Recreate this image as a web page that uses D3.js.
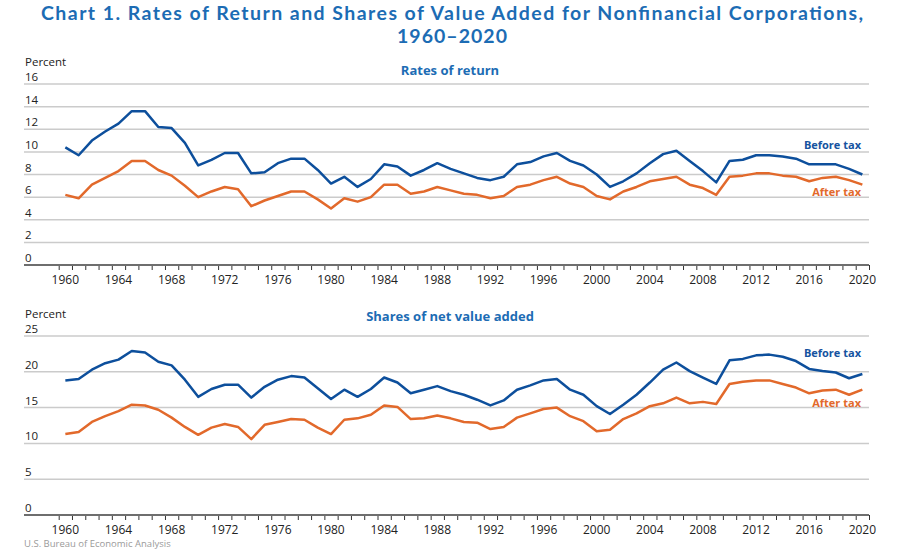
<!DOCTYPE html>
<html>
<head>
<meta charset="utf-8" />
<title>Chart 1</title>
<script src="https://d3js.org/d3.v7.min.js"></script>
<style>
  body { margin: 0; background: #fff; }
  text { font-family: "Open Sans", sans-serif; }
</style>
</head>
<body>
<div id="chart"></div>
<script>
const years = d3.range(1960, 2021);

const returnBefore = [10.4, 9.7, 11.0, 11.8, 12.5, 13.6, 13.6, 12.2, 12.1, 10.8,
  8.8, 9.3, 9.9, 9.9, 8.1, 8.2, 9.0, 9.4, 9.4, 8.4,
  7.2, 7.8, 6.9, 7.6, 8.9, 8.7, 7.9, 8.4, 9.0, 8.5,
  8.1, 7.7, 7.5, 7.8, 8.9, 9.1, 9.6, 9.9, 9.2, 8.8,
  8.0, 6.9, 7.4, 8.1, 9.0, 9.8, 10.1, 9.2, 8.3, 7.3,
  9.2, 9.3, 9.7, 9.7, 9.6, 9.4, 8.9, 8.9, 8.9, 8.5, 8.0];

const returnAfter = [6.2, 5.9, 7.1, 7.7, 8.3, 9.2, 9.2, 8.4, 7.9, 7.0,
  6.0, 6.5, 6.9, 6.7, 5.2, 5.7, 6.1, 6.5, 6.5, 5.8,
  5.0, 5.9, 5.6, 6.0, 7.1, 7.1, 6.3, 6.5, 6.9, 6.6,
  6.3, 6.2, 5.9, 6.1, 6.9, 7.1, 7.5, 7.8, 7.2, 6.9,
  6.1, 5.8, 6.5, 6.9, 7.4, 7.6, 7.8, 7.1, 6.8, 6.2,
  7.8, 7.9, 8.1, 8.1, 7.9, 7.8, 7.4, 7.7, 7.8, 7.5, 7.1];

const shareBefore = [18.8, 19.0, 20.3, 21.2, 21.7, 22.9, 22.7, 21.4, 20.9, 18.9,
  16.5, 17.6, 18.2, 18.2, 16.4, 17.9, 18.9, 19.4, 19.2, 17.7,
  16.2, 17.5, 16.5, 17.6, 19.2, 18.5, 17.0, 17.5, 18.0, 17.3,
  16.8, 16.1, 15.3, 16.0, 17.5, 18.1, 18.8, 19.0, 17.5, 16.8,
  15.2, 14.1, 15.4, 16.8, 18.5, 20.3, 21.3, 20.1, 19.2, 18.3,
  21.6, 21.8, 22.3, 22.4, 22.1, 21.5, 20.4, 20.1, 19.9, 19.1, 19.7];

const shareAfter = [11.3, 11.6, 13.0, 13.8, 14.5, 15.4, 15.3, 14.7, 13.6, 12.3,
  11.2, 12.2, 12.7, 12.3, 10.6, 12.6, 13.0, 13.4, 13.3, 12.2,
  11.3, 13.3, 13.5, 14.0, 15.3, 15.1, 13.4, 13.5, 13.9, 13.5,
  13.0, 12.9, 12.0, 12.3, 13.6, 14.2, 14.8, 15.0, 13.8, 13.1,
  11.7, 11.9, 13.4, 14.2, 15.2, 15.6, 16.4, 15.6, 15.8, 15.5,
  18.3, 18.6, 18.8, 18.8, 18.3, 17.8, 17.0, 17.4, 17.5, 16.8, 17.5];

const returnTicks = [0, 2, 4, 6, 8, 10, 12, 14, 16];
const shareTicks = [0, 5, 10, 15, 20, 25];
const yearLabels = d3.range(1960, 2021, 4);

const blue = "#0d4f9c", orange = "#e2692b", titleBlue = "#1c6cb4";
const W = 905, H = 550;
const left = 24, right = 869;

const svg = d3.select("#chart").append("svg")
  .attr("width", W).attr("height", H);
svg.append("rect").attr("width", W).attr("height", H).attr("fill", "#fff");

// title, two lines (stretched to the reference width)
[["Chart 1. Rates of Return and Shares of Value Added for Nonfinancial Corporations,", 19.5, 822],
 ["1960–2020", 42.5, 110]].forEach(([t, yy, len]) => {
  svg.append("text").attr("x", 452).attr("y", yy).attr("text-anchor", "middle")
    .attr("fill", titleBlue).attr("font-size", 19.5).attr("font-weight", 700)
    .style("font-family", "Lato, sans-serif")
    .attr("textLength", len).attr("lengthAdjust", "spacing").text(t);
});

const x = d3.scaleLinear().domain([1960, 2021]).range([58.7, right]);

function panel(opts) {
  const y = d3.scaleLinear().domain([0, opts.max]).range([opts.bottom, opts.top]);
  const g = svg.append("g");

  g.append("text").attr("x", 25).attr("y", opts.top - 18)
    .attr("font-size", 11.5).attr("fill", "#222").text("Percent");
  g.append("text").attr("x", 450).attr("y", opts.top - 10 + opts.subDy)
    .attr("text-anchor", "middle").attr("font-size", 13).attr("font-weight", 700)
    .attr("fill", titleBlue).text(opts.sub);

  // gridlines + y labels
  g.selectAll(".grid").data(opts.ticks.filter(d => d > 0)).join("line")
    .attr("x1", left).attr("x2", right)
    .attr("y1", d => y(d)).attr("y2", d => y(d))
    .attr("stroke", "#cbcbcb").attr("stroke-width", 1.5);
  g.selectAll(".ylab").data(opts.ticks).join("text")
    .attr("x", 25).attr("y", d => y(d) - 3)
    .attr("font-size", 11.5).attr("fill", "#222").text(d => d);

  // x axis: ticks at year boundaries, labels mid-year
  const ax = g.append("g").attr("transform", `translate(0,${opts.bottom})`)
    .call(d3.axisBottom(x).tickValues(d3.range(1960, 2022)).tickSize(5).tickFormat(""));
  ax.select(".domain").remove();
  ax.selectAll(".tick line").attr("stroke", "#333").attr("stroke-width", 1);
  g.append("line").attr("x1", left).attr("x2", right)
    .attr("y1", opts.bottom).attr("y2", opts.bottom)
    .attr("stroke", "#6e6e6e").attr("stroke-width", 2);
  g.selectAll(".xlab").data(yearLabels).join("text")
    .attr("x", d => x(d + 0.5)).attr("y", opts.bottom + 18.5)
    .attr("text-anchor", "middle").attr("font-size", 12).attr("fill", "#222")
    .text(d => d);

  const line = d3.line().x((d, i) => x(years[i] + 0.5)).y(d => y(d));
  g.append("path").datum(opts.after).attr("d", line)
    .attr("fill", "none").attr("stroke", orange).attr("stroke-width", 2.5)
    .attr("stroke-linejoin", "round");
  g.append("path").datum(opts.before).attr("d", line)
    .attr("fill", "none").attr("stroke", blue).attr("stroke-width", 2.5)
    .attr("stroke-linejoin", "round");

  g.append("text").attr("x", 861).attr("y", y(opts.beforeAt)).attr("text-anchor", "end")
    .attr("font-size", 11).attr("font-weight", 700).attr("fill", "#1553a0").text("Before tax");
  g.append("text").attr("x", 861).attr("y", y(opts.afterAt)).attr("text-anchor", "end")
    .attr("font-size", 11).attr("font-weight", 700).attr("fill", orange).text("After tax");
}

panel({ top: 84, bottom: 265, max: 16, ticks: returnTicks, sub: "Rates of return", subDy: 1,
  before: returnBefore, after: returnAfter, beforeAt: 10.25, afterAt: 6.1 });
panel({ top: 336, bottom: 515, max: 25, ticks: shareTicks, sub: "Shares of net value added", subDy: -5,
  before: shareBefore, after: shareAfter, beforeAt: 22.07, afterAt: 15.08 });

svg.append("text").attr("x", 24).attr("y", 547).attr("font-size", 9.5)
  .attr("fill", "#9a9a9a").text("U.S. Bureau of Economic Analysis");
</script>
</body>
</html>
